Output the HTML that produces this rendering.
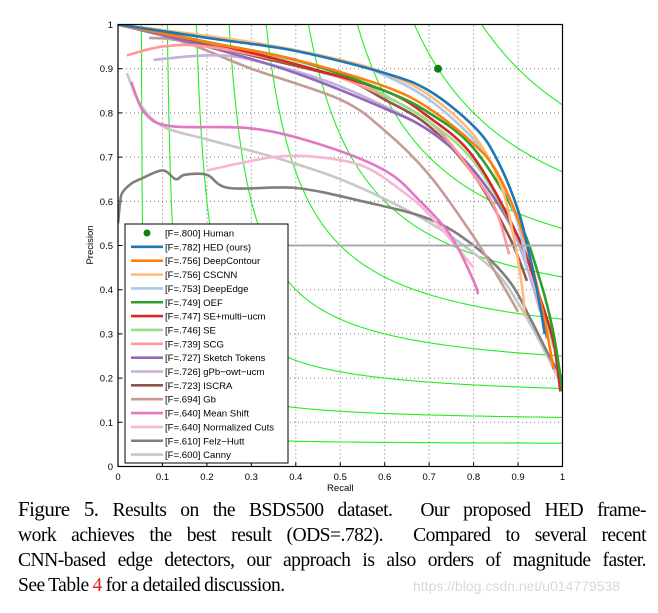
<!DOCTYPE html>
<html><head><meta charset="utf-8"><style>
body{margin:0;background:#fff;width:658px;height:613px;overflow:hidden;position:relative}
svg{position:absolute;left:0;top:0}
.cap{position:absolute;left:18px;width:628px;top:497px;font-family:"Liberation Serif",serif;font-size:19.6px;line-height:25px;color:#000;letter-spacing:-0.55px;word-spacing:-0.5px}
.cap div{text-align:justify;text-align-last:justify;white-space:nowrap}
.cap div.last{text-align-last:left}
.wm{position:absolute;left:413px;top:578px;font-family:"Liberation Sans",sans-serif;font-size:14px;color:#d8d8d8}
</style></head><body>
<svg id="chart" width="658" height="613"></svg>
<div class="cap">
<div><span style="font-size:21px">Figure 5.</span> Results on the BSDS500 dataset.&nbsp; Our proposed HED frame-</div>
<div>work achieves the best result (ODS=.782).&nbsp; Compared to several recent</div>
<div>CNN-based edge detectors, our approach is also orders of magnitude faster.</div>
<div class="last">See Table <span style="color:#e02020">4</span> for a detailed discussion.</div>
</div>
<div class="wm">https://blog.csdn.net/u014779538</div>
<script>
const ticks=[0,0.1,0.2,0.3,0.4,0.5,0.6,0.7,0.8,0.9,1];
const tickLabels=["0","0.1","0.2","0.3","0.4","0.5","0.6","0.7","0.8","0.9","1"];
const isoF=[0.1,0.2,0.3,0.4,0.5,0.6,0.7,0.8,0.9];
const names=["HED (ours)","DeepContour","CSCNN","DeepEdge","OEF","SE+multi\u2212ucm","SE","SCG","Sketch Tokens","gPb\u2212owt\u2212ucm","ISCRA","Gb","Mean Shift","Normalized Cuts","Felz\u2212Hutt","Canny"];
const fscores=[".782",".756",".756",".753",".749",".747",".746",".739",".727",".726",".723",".694",".640",".640",".610",".600"];
const colors=["#1f77b4","#ff7f0e","#ffbb78","#aec7e8","#2ca02c","#d62728","#98df8a","#ff9896","#9467bd","#c5b0d5","#8c564b","#c49c94","#e377c2","#f7b6d2","#7f7f7f","#c7c7c7"];
const humanR=0.72, humanP=0.90;
const recalls=[
[0,0.2,0.4,0.6,0.7,0.8,0.85,0.9,0.93,0.95,0.96],
[0,0.2,0.4,0.6,0.7,0.8,0.85,0.9,0.93,0.96,0.98],
[0,0.3,0.5,0.6,0.7,0.8,0.86,0.89,0.91,0.915],
[0,0.3,0.5,0.6,0.7,0.8,0.86,0.9,0.92],
[0,0.2,0.4,0.6,0.7,0.8,0.9,0.95,0.98,1],
[0,0.2,0.4,0.6,0.7,0.8,0.9,0.95,0.98,0.995],
[0,0.3,0.5,0.6,0.7,0.8,0.9,0.95,0.98],
[0.02,0.1,0.2,0.4,0.55,0.7,0.8,0.85,0.88],
[0,0.2,0.4,0.6,0.7,0.8,0.9,0.94,0.965],
[0.08,0.2,0.3,0.5,0.7,0.8,0.88,0.92,0.95],
[0,0.3,0.5,0.6,0.7,0.8,0.88,0.92],
[0.07,0.15,0.3,0.5,0.6,0.7,0.8,0.86,0.9],
[0.03,0.06,0.12,0.3,0.45,0.6,0.68,0.75,0.8,0.81],
[0.2,0.35,0.45,0.55,0.63,0.7,0.8],
[0,0.005,0.01,0.03,0.05,0.1,0.13,0.15,0.2,0.25,0.4,0.55,0.7,0.8,0.88,0.93,0.97,1],
[0.02,0.05,0.1,0.2,0.35,0.5,0.65,0.75,0.85,0.9,0.95,1]];
const precisions=[
[1,0.97,0.94,0.89,0.85,0.77,0.7,0.58,0.46,0.36,0.3],
[1,0.96,0.92,0.86,0.81,0.73,0.67,0.56,0.46,0.33,0.22],
[1,0.96,0.92,0.89,0.84,0.75,0.64,0.52,0.4,0.34],
[1,0.96,0.92,0.885,0.83,0.74,0.65,0.55,0.45],
[1,0.96,0.92,0.85,0.8,0.72,0.56,0.42,0.3,0.17],
[1,0.96,0.91,0.85,0.79,0.7,0.52,0.38,0.28,0.17],
[1,0.94,0.89,0.84,0.78,0.69,0.52,0.38,0.27],
[0.93,0.95,0.95,0.91,0.86,0.78,0.66,0.58,0.48],
[1,0.95,0.89,0.81,0.76,0.67,0.52,0.41,0.29],
[0.92,0.93,0.92,0.86,0.76,0.67,0.55,0.45,0.35],
[1,0.93,0.88,0.83,0.77,0.66,0.52,0.42],
[0.97,0.96,0.9,0.83,0.76,0.66,0.52,0.42,0.35],
[0.87,0.8,0.77,0.765,0.73,0.67,0.6,0.52,0.42,0.39],
[0.67,0.7,0.7,0.68,0.63,0.57,0.45],
[0.55,0.6,0.62,0.64,0.65,0.67,0.65,0.66,0.66,0.63,0.63,0.6,0.56,0.5,0.42,0.33,0.25,0.2],
[0.89,0.82,0.77,0.74,0.7,0.65,0.58,0.52,0.44,0.37,0.28,0.18]];
const X0=118,XS=444.5,Y0=466.5,YS=442;
const sx=v=>X0+v*XS, sy=v=>Y0-v*YS;
const svg=document.getElementById('chart');
const NS='http://www.w3.org/2000/svg';
function mk(t,a,p){const e=document.createElementNS(NS,t);for(const k in a)e.setAttribute(k,a[k]);(p||svg).appendChild(e);return e;}
function smooth(P){
 if(P.length<3)return 'M'+P.map(p=>p.join(',')).join('L');
 let d='M'+P[0][0].toFixed(1)+','+P[0][1].toFixed(1);
 for(let i=0;i<P.length-1;i++){
  const p0=P[i-1]||P[i],p1=P[i],p2=P[i+1],p3=P[i+2]||p2;
  const c1=[p1[0]+(p2[0]-p0[0])/6,p1[1]+(p2[1]-p0[1])/6];
  const c2=[p2[0]-(p3[0]-p1[0])/6,p2[1]-(p3[1]-p1[1])/6];
  d+='C'+c1.map(v=>v.toFixed(1))+' '+c2.map(v=>v.toFixed(1))+' '+p2.map(v=>v.toFixed(1));
 }
 return d;
}
ticks.forEach((t,i)=>{
 if(i>0&&i<10){
  const g1=mk('line',{x1:sx(t),x2:sx(t),y1:sy(0),y2:sy(1),stroke:'#777','stroke-width':1,'stroke-dasharray':'1,3'});
  
  const g2=mk('line',{x1:sx(0),x2:sx(1),y1:sy(t),y2:sy(t),stroke:'#777','stroke-width':1,'stroke-dasharray':'1,3'});
  
 }
 const xl=mk('text',{x:sx(t),y:480,'text-anchor':'middle','font-family':'Liberation Sans,sans-serif','font-size':9.5});
 xl.textContent=tickLabels[i];
 
 const yl=mk('text',{x:sx(0)-5,y:sy(t)+3.5,'text-anchor':'end','font-family':'Liberation Sans,sans-serif','font-size':9.5});
 yl.textContent=tickLabels[i];
 
 const tx=mk('line',{x1:sx(t),x2:sx(t),y1:sy(0),y2:sy(0)-4,stroke:'#000'});
 
 const ty=mk('line',{x1:sx(0),x2:sx(0)+4,y1:sy(t),y2:sy(t),stroke:'#000'});
 
});
const defs=mk('defs',{});const cp=mk('clipPath',{id:'cp'},defs);mk('rect',{x:sx(0),y:sy(1),width:XS,height:YS},cp);
const plot=mk('g',{'clip-path':'url(#cp)'});
isoF.forEach(f=>{
 let pts=[];
 for(let i=0;i<=300;i++){const r=f/2+0.0001+(1-f/2)*Math.pow(i/300,2);const p=f*r/(2*r-f);if(p<=1.2)pts.push(sx(r).toFixed(1)+','+sy(p).toFixed(1));}
 const l=mk('polyline',{points:pts.join(' '),fill:'none',stroke:'#22ee22','stroke-width':1.1},plot);
 
});
for(let s=names.length-1;s>=0;s--){
 const P=recalls[s].map((r,i)=>[sx(r),sy(precisions[s][i])]);
 const l=mk('path',{d:smooth(P),fill:'none',stroke:colors[s],'stroke-width':2.6,'stroke-linejoin':'round'},plot);
 
}
const hp=mk('circle',{cx:sx(humanR),cy:sy(humanP),r:4,fill:'#108010'});

const hl=mk('line',{x1:288,x2:sx(1),y1:sy(0.5),y2:sy(0.5),stroke:'#aaa','stroke-width':2});

const ax=mk('rect',{x:sx(0),y:sy(1),width:XS,height:YS,fill:'none',stroke:'#000','stroke-width':1.2});

const xt=mk('text',{x:sx(0.5),y:491,'text-anchor':'middle','font-family':'Liberation Sans,sans-serif','font-size':9.5});xt.textContent='Recall';

const yt=mk('text',{x:0,y:0,'text-anchor':'middle','font-family':'Liberation Sans,sans-serif','font-size':9.5,transform:'translate(93,245) rotate(-90)'});yt.textContent='Precision';

const lg=mk('g',{});

mk('rect',{x:125,y:224,width:163,height:239,fill:'#fff',stroke:'#000','stroke-width':1},lg);
const rowH=13.85, y0=233;
const hm=mk('circle',{cx:147,cy:y0,r:3.5,fill:'#108010'},lg);

const ht=mk('text',{x:165,y:y0+3.5,'font-family':'Liberation Sans,sans-serif','font-size':9.6},lg);ht.textContent='[F=.800] Human';

names.forEach((n,i)=>{
 const y=y0+(i+1)*rowH;
 const l=mk('line',{x1:131,x2:163,y1:y,y2:y,stroke:colors[i],'stroke-width':2.6},lg);
 
 const t=mk('text',{x:165,y:y+3.5,'font-family':'Liberation Sans,sans-serif','font-size':9.6},lg);
 t.textContent='[F='+fscores[i]+'] '+n;
 
});
</script>
</body></html>
